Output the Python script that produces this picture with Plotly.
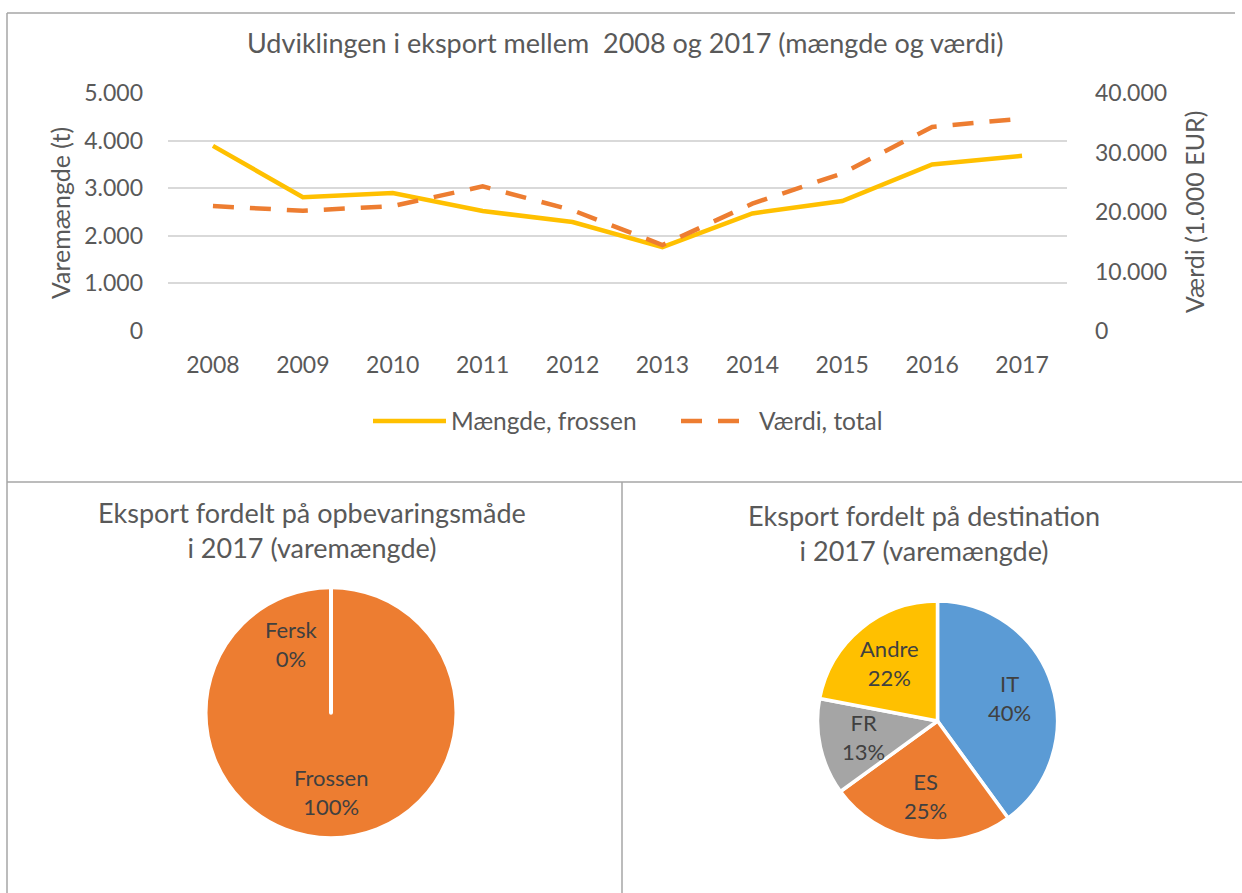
import plotly.graph_objects as go
import math

# ---------------- data ----------------
YEARS = ["2008", "2009", "2010", "2011", "2012", "2013", "2014", "2015", "2016", "2017"]
MAENGDE_FROSSEN = [3890, 2810, 2900, 2520, 2290, 1760, 2470, 2730, 3500, 3680]          # t
VAERDI_TOTAL = [21000, 20200, 21000, 24300, 20300, 14450, 21400, 26500, 34300, 35700]     # 1.000 EUR

OPBEV_LABELS = ["Fersk", "Frossen"]
OPBEV_VALUES = [0, 100]

DEST_LABELS = ["IT", "ES", "FR", "Andre"]
DEST_VALUES = [40, 25, 13, 22]

TITLE_MAIN = "Udviklingen i eksport mellem  2008 og 2017 (mængde og værdi)"
TITLE_PIE1 = "Eksport fordelt på opbevaringsmåde<br>i 2017 (varemængde)"
TITLE_PIE2 = "Eksport fordelt på destination<br>i 2017 (varemængde)"
YTITLE_LEFT = "Varemængde (t)"
YTITLE_RIGHT = "Værdi (1.000 EUR)"

# ---------------- style ----------------
W, H = 1242, 893
FONT = "Lato"
TXT = "#595959"
LBL = "#404040"
BLUE, ORANGE, GRAY, YELLOW = "#5B9BD5", "#ED7D31", "#A5A5A5", "#FFC000"
BORDER = "#a6a6a6"


def px(x):
    return x / W


def py(y):
    return 1 - y / H


fig = go.Figure()

fig.add_trace(go.Scatter(
    x=YEARS, y=MAENGDE_FROSSEN, name="Mængde, frossen", mode="lines",
    line=dict(color=YELLOW, width=4.5), yaxis="y", hoverinfo="skip"))
fig.add_trace(go.Scatter(
    x=YEARS, y=VAERDI_TOTAL, name="Værdi, total", mode="lines",
    line=dict(color=ORANGE, width=4.5, dash="21px,16px"), yaxis="y2", hoverinfo="skip"))

# pies
P1 = dict(cx=331, cy=712.7, r=125.5)
P2 = dict(cx=937.5, cy=721, r=120)


def dom(p):
    return dict(x=[px(p["cx"] - p["r"]), px(p["cx"] + p["r"])],
                y=[py(p["cy"] + p["r"]), py(p["cy"] - p["r"])])


fig.add_trace(go.Pie(
    labels=OPBEV_LABELS[::-1], values=OPBEV_VALUES[::-1], sort=False, direction="clockwise",
    rotation=0, domain=dom(P1), textinfo="none", hoverinfo="skip", showlegend=False,
    marker=dict(colors=[ORANGE, BLUE], line=dict(color="white", width=4))))
fig.add_trace(go.Pie(
    labels=DEST_LABELS, values=DEST_VALUES, sort=False, direction="clockwise",
    rotation=0, domain=dom(P2), textinfo="none", hoverinfo="skip", showlegend=False,
    marker=dict(colors=[BLUE, ORANGE, GRAY, YELLOW], line=dict(color="white", width=3.5))))

annotations = []


def pie_labels(p, labels, values, rho=0.63):
    total = sum(values)
    cum = 0
    for lab, v in zip(labels, values):
        frac = v / total
        ang = (cum + frac / 2) * 360
        if frac == 0:
            ang -= 30  # keep label clear of the zero-width slice
        cum += frac
        a = math.radians(ang)
        x = p["cx"] + rho * p["r"] * math.sin(a)
        y = p["cy"] - rho * p["r"] * math.cos(a)
        annotations.append(dict(
            x=px(x), y=py(y), xref="paper", yref="paper", showarrow=False,
            xanchor="center", yanchor="middle",
            text=f"{lab}<br>{round(frac * 100)}%",
            font=dict(family=FONT, size=22, color=LBL)))


pie_labels(P1, OPBEV_LABELS, OPBEV_VALUES)
pie_labels(P2, DEST_LABELS, DEST_VALUES)

annotations += [
    dict(x=px(625), y=py(43), xref="paper", yref="paper", showarrow=False,
         xanchor="center", yanchor="middle", text=TITLE_MAIN,
         font=dict(family=FONT, size=27, color=TXT)),
    dict(x=px(312), y=py(530), xref="paper", yref="paper", showarrow=False,
         xanchor="center", yanchor="middle", text=TITLE_PIE1,
         font=dict(family=FONT, size=27, color=TXT)),
    dict(x=px(924), y=py(533), xref="paper", yref="paper", showarrow=False,
         xanchor="center", yanchor="middle", text=TITLE_PIE2,
         font=dict(family=FONT, size=27, color=TXT)),
    dict(x=px(60), y=py(213), xref="paper", yref="paper", showarrow=False,
         xanchor="center", yanchor="middle", textangle=-90, text=YTITLE_LEFT,
         font=dict(family=FONT, size=25, color=TXT)),
    dict(x=px(1194), y=py(212), xref="paper", yref="paper", showarrow=False,
         xanchor="center", yanchor="middle", textangle=-90, text=YTITLE_RIGHT,
         font=dict(family=FONT, size=25, color=TXT)),
]

line_style = dict(color=BORDER, width=1.5)
shapes = [
    dict(type="line", xref="paper", yref="paper", x0=px(7), x1=px(1235), y0=py(13), y1=py(13), line=line_style),
    dict(type="line", xref="paper", yref="paper", x0=px(7), x1=px(7), y0=py(13), y1=py(893), line=line_style),
    dict(type="line", xref="paper", yref="paper", x0=px(7), x1=px(1242), y0=py(482), y1=py(482), line=line_style),
    dict(type="line", xref="paper", yref="paper", x0=px(622), x1=px(622), y0=py(482), y1=py(893), line=line_style),
]

tickfont = dict(family=FONT, size=23, color=TXT)

fig.update_layout(
    width=W, height=H, margin=dict(l=0, r=0, t=0, b=0, pad=0, autoexpand=False),
    paper_bgcolor="white", plot_bgcolor="white",
    separators=",.",
    font=dict(family=FONT, color=TXT),
    xaxis=dict(domain=[px(168), px(1067)], type="category", range=[-0.5, 9.5],
               showgrid=False, zeroline=False, showline=False, ticks="", automargin=False,
               tickfont=tickfont, ticklabelstandoff=18, anchor="y"),
    yaxis=dict(domain=[py(331), py(93)], range=[0, 5000], dtick=1000, tickformat=",d",
               showgrid=True, gridcolor="#d9d9d9", gridwidth=1.5, zeroline=False, automargin=False,
               showline=False, ticks="", tickfont=tickfont, ticklabelstandoff=24, anchor="x"),
    yaxis2=dict(overlaying="y", side="right", range=[0, 40000], dtick=10000, tickformat=",d",
                showgrid=False, zeroline=False, showline=False, ticks="", automargin=False,
                tickfont=tickfont, ticklabelstandoff=27, anchor="x"),
    legend=dict(orientation="h", x=px(368), xanchor="left", y=py(421), yanchor="middle",
                font=dict(family=FONT, size=24.5, color=TXT), bgcolor="rgba(0,0,0,0)",
                itemwidth=73, entrywidth=220, entrywidthmode="pixels"),
    annotations=annotations,
    shapes=shapes,
)

fig.write_html("out.html", config={"displayModeBar": False},
               post_script="document.body.style.margin='0';document.body.style.overflow='hidden';")
